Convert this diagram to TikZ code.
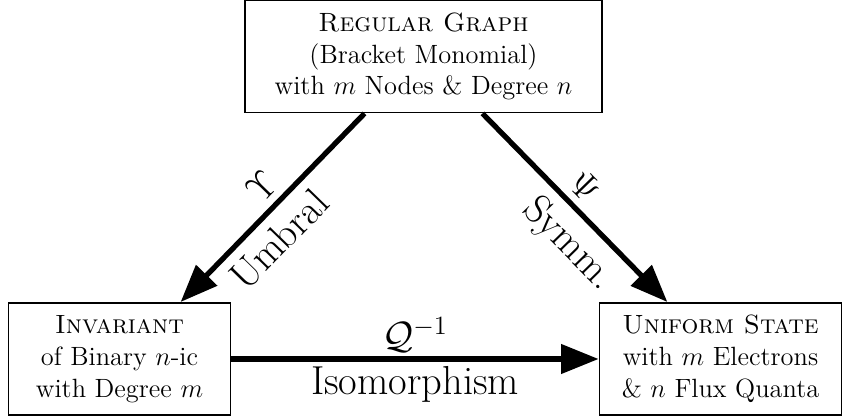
\documentclass[12pt,tikz,border=0pt]{standalone}
\usetikzlibrary{arrows.meta}

\begin{document}
\begin{tikzpicture}[x=0.4545pt, y=-0.4545pt,
    box/.style={draw, thick, align=center, inner sep=0pt, minimum height=51pt},
    map/.style={-{Triangle[length=17pt,width=13pt]}, line width=2.4pt},
    lbl/.style={font=\fontsize{18.4}{22}\selectfont, inner sep=2pt},
    sym/.style={font=\Large, inner sep=3pt}]
  \useasboundingbox (0,0) rectangle (843,419);
  % the three boxes
  \node[box, minimum width=162pt] (graph) at (423.5,56.5)
    {\textsc{Regular Graph}\\(Bracket Monomial)\\with $m$ Nodes \& Degree $n$};
  \node[box, minimum width=101pt] (inv) at (119.5,359)
    {\textsc{Invariant}\\of Binary $n$-ic\\with Degree $m$};
  \node[box, minimum width=110pt] (state) at (720.5,359)
    {\textsc{Uniform State}\\with $m$ Electrons\\\& $n$ Flux Quanta};
  % maps between them
  \draw[map] (graph.224) -- node[sloped, above, sym, pos=0.47] {$\Upsilon$}
    node[sloped, below, lbl, inner sep=4.5pt, pos=0.57] {Umbral} (inv.43);
  \draw[map] (graph.316) -- node[sloped, above, sym, pos=0.47] {$\Psi$}
    node[sloped, below, lbl, inner sep=4.5pt, pos=0.58] {Symm.} (state.133);
  \draw[map] (inv) -- node[above, lbl] {$\mathcal{Q}^{-1}$}
    node[below, lbl] {Isomorphism} (state);
\end{tikzpicture}
\end{document}
